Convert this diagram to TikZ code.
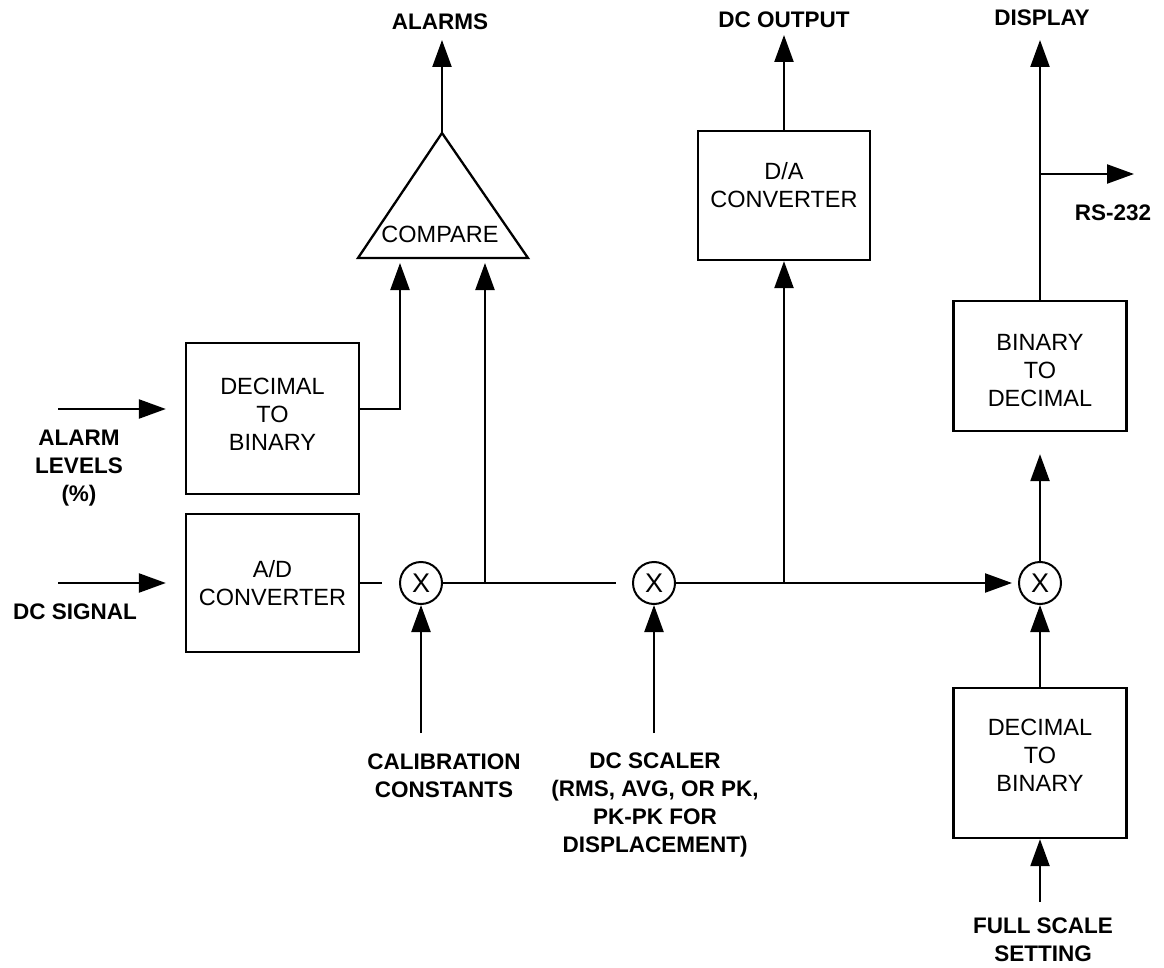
\documentclass[tikz,border=0pt]{standalone}
\usepackage{fontspec}
\setmainfont{Liberation Sans}
\usetikzlibrary{arrows.meta}
\begin{document}
\begin{tikzpicture}[x=1pt,y=-1pt,
  line width=2.3pt,
  arr/.style={-{Triangle[length=27pt,width=19pt]}},
  blk/.style={draw,inner sep=0pt,minimum width=173pt},
  btxt/.style={font=\fontsize{23.5}{28}\selectfont,align=center,inner sep=0pt},
  lbl/.style={font=\bfseries\fontsize{22.5}{28}\selectfont,align=center,inner sep=0pt},
  mult/.style={draw,circle,inner sep=0pt,minimum size=42pt,line width=2pt,font=\fontsize{27}{27}\selectfont}]
\useasboundingbox (0,0) rectangle (1164,968);
% blocks
\node[blk,minimum height=151pt] (d2b1) at (272.5,418.5) {};
\node[btxt] at (272.5,414) {DECIMAL\\TO\\BINARY};
\node[blk,minimum height=138pt] (ad) at (272.5,583) {};
\node[btxt] at (272.5,583) {A/D\\CONVERTER};
\node[blk,minimum width=172pt,minimum height=129pt] (da) at (784,195.5) {};
\node[btxt] at (784,185) {D/A\\CONVERTER};
\node[blk,minimum height=130pt] (b2d) at (1040,366) {};
\node[btxt] at (1040,371) {BINARY\\TO\\DECIMAL};
\node[blk,minimum height=150pt] (d2b2) at (1040,763) {};
\node[btxt] at (1040,755) {DECIMAL\\TO\\BINARY};
% compare triangle
\coordinate (apex) at (442,133);
\coordinate (bl) at (358,258);
\coordinate (br) at (528,258);
\draw[line join=miter] (apex) -- (br) -- (bl) -- cycle;
\node[btxt] (cmp) at (440,234) {COMPARE};
% multipliers
\node[mult] (x1) at (421,583) {X};
\node[mult] (x2) at (654,583) {X};
\node[mult] (x3) at (1040,583) {X};
% coordinates
\coordinate (alin) at (58,409);
\coordinate (dcin) at (58,583);
\coordinate (cin1) at (400,263);
\coordinate (cin2) at (485,263);
\coordinate (j1) at (485,583);
\coordinate (j2) at (784,583);
\coordinate (aout) at (442,40);
\coordinate (dcout) at (784,35);
\coordinate (disp) at (1040,40);
\coordinate (j3) at (1040,174);
\coordinate (rs) at (1134,174);
\coordinate (cal) at (421,733);
\coordinate (dcs) at (654,733);
\coordinate (fs) at (1040,902);
% connectors
\draw[arr,shorten >=19pt] (alin) -- (d2b1.west |- alin);
\draw[arr] (d2b1.east |- alin) -| (cin1);
\draw[arr,shorten >=19pt] (dcin) -- (ad.west |- dcin);
\draw[shorten >=17pt] (ad.east |- dcin) -- (x1.west);
\draw[shorten >=16pt] (x1.east) -- (x2.west);
\draw[arr] (j1) -- (cin2);
\draw[arr,shorten >=6pt] (x2.east) -- (x3.west);
\draw[arr] (j2) -- (da.south);
\draw[arr] (da.north) -- (dcout);
\draw[arr] (apex) -- (aout);
\draw[arr,shorten >=22pt] (x3.north) -- (b2d.south);
\draw[arr] (b2d.north) -- (disp);
\draw[arr] (j3) -- (rs);
\draw[arr] (d2b2.north) -- (x3.south);
\draw[arr] (fs) -- (d2b2.south);
\draw[arr] (cal) -- (x1.south);
\draw[arr] (dcs) -- (x2.south);
% labels
\node[lbl] at (440,22) {ALARMS};
\node[lbl] at (784,20) {DC OUTPUT};
\node[lbl] at (1042,18) {DISPLAY};
\node[lbl] at (1113,213) {RS-232};
\node[lbl] at (79,468) {ALARM\\LEVELS\\(\%)};
\node[lbl] at (75,612) {DC SIGNAL};
\node[lbl] at (444,776) {CALIBRATION\\CONSTANTS};
\node[lbl] at (655,805) {DC SCALER\\(RMS, AVG, OR PK,\\PK-PK FOR\\DISPLACEMENT)};
\node[lbl] at (1043,940) {FULL SCALE\\SETTING};
\end{tikzpicture}
\end{document}
